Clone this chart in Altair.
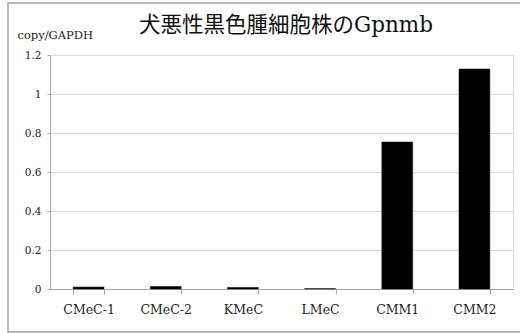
import altair as alt
import pandas as pd

# Gpnmb expression (copy number normalised to GAPDH) per canine melanoma cell line
cell_lines = ["CMeC-1", "CMeC-2", "KMeC", "LMeC", "CMM1", "CMM2"]
expression = [0.010, 0.013, 0.008, 0.002, 0.754, 1.128]
y_ticks = [0, 0.2, 0.4, 0.6, 0.8, 1, 1.2]
chart_title = "犬悪性黒色腫細胞株のGpnmb"

df = pd.DataFrame({"line": cell_lines, "value": expression})

serif = "DejaVu Serif"
title_font = "DejaVu Serif, Noto Sans CJK JP"

bars = alt.Chart(df).mark_bar(color="black", stroke="#111", strokeWidth=0.5).encode(
    x=alt.X(
        "line:N",
        sort=cell_lines,
        title=None,
        scale=alt.Scale(paddingInner=0.6, paddingOuter=0.3),
        axis=alt.Axis(
            labelAngle=0,
            labelFont=serif,
            labelFontSize=12.5,
            labelColor="#222",
            labelPadding=9,
            domainColor="#a6a6a6",
            tickColor="#a6a6a6",
            tickBand="extent",
            tickSize=5,
        ),
    ),
    y=alt.Y(
        "value:Q",
        scale=alt.Scale(domain=[0, 1.2]),
        axis=alt.Axis(
            values=y_ticks,
            labelExpr="datum.value == 0 || datum.value == 1 ? format(datum.value, 'd') : format(datum.value, '.1f')",
            labelFont=serif,
            labelFontSize=10.5,
            labelColor="#222",
            labelPadding=6,
            domainColor="#a6a6a6",
            tickColor="#a6a6a6",
            tickSize=3,
            gridColor="#d9d9d9",
            title="copy/GAPDH",
            titleFont=serif,
            titleFontSize=11.5,
            titleFontWeight="normal",
            titleColor="#222",
            titleAngle=0,
            titleAlign="left",
            titleBaseline="alphabetic",
            titleX=-33,
            titleY=-17,
        ),
    ),
)

# chart heading, centred above the plot
heading = alt.Chart(pd.DataFrame({"t": [chart_title]})).mark_text(
    font=title_font, fontSize=21.5, color="#111", align="center", baseline="alphabetic"
).encode(text="t:N", x=alt.value(236), y=alt.value(-23))

# outer gray frame around the whole figure
frame = alt.Chart(pd.DataFrame({"f": [0]})).mark_rect(
    fill=None, stroke="#a0a0a0", strokeWidth=1.5
).encode(
    x=alt.value(-42), x2=alt.value(495), y=alt.value(-52), y2=alt.value(277)
)

chart = (
    alt.layer(bars, heading, frame)
    .properties(
        width=463,
        height=234,
        padding={"left": 50, "top": 55, "right": 7, "bottom": 44},
        autosize=alt.AutoSizeParams(type="none"),
    )
    .configure_view(stroke=None)
    .configure(background="white")
)

chart.save("out.html", embed_options={"renderer": "svg", "actions": False})
